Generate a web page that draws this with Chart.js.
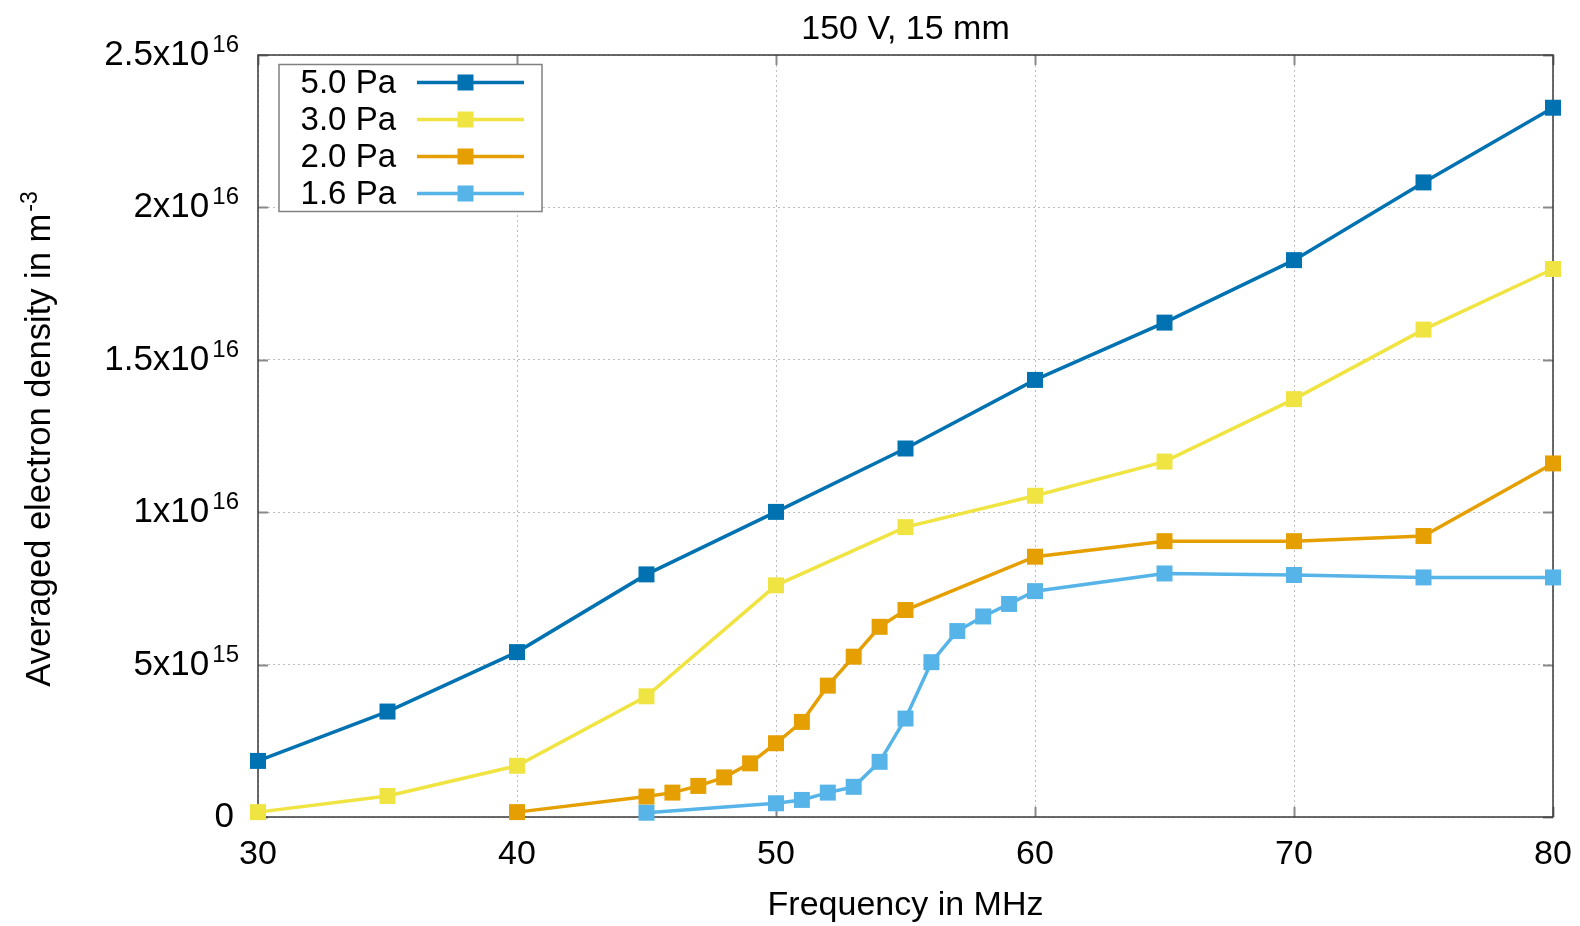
<!DOCTYPE html>
<html>
<head>
<meta charset="utf-8">
<script src="https://cdn.jsdelivr.net/npm/chart.js@4/dist/chart.umd.min.js"></script>
<style>
  html, body { margin: 0; padding: 0; background: #fff; }
  canvas { display: block; }
</style>
</head>
<body>
<canvas id="chart" width="1580" height="926"></canvas>
<script>
// frequencies in MHz, densities in m^-3
const freq50 = [30, 35, 40, 45, 50, 55, 60, 65, 70, 75, 80];
const dens50 = [0.184e16, 0.346e16, 0.541e16, 0.796e16, 1.001e16, 1.209e16, 1.434e16, 1.622e16, 1.827e16, 2.082e16, 2.327e16];

const freq30 = [30, 35, 40, 45, 50, 55, 60, 65, 70, 75, 80];
const dens30 = [0.016e16, 0.069e16, 0.168e16, 0.396e16, 0.760e16, 0.951e16, 1.054e16, 1.166e16, 1.371e16, 1.599e16, 1.798e16];

const freq20 = [40, 45, 46, 47, 48, 49, 50, 51, 52, 53, 54, 55, 60, 65, 70, 75, 80];
const dens20 = [0.016e16, 0.067e16, 0.080e16, 0.102e16, 0.130e16, 0.176e16, 0.242e16, 0.312e16, 0.431e16, 0.526e16, 0.624e16, 0.679e16, 0.854e16, 0.905e16, 0.905e16, 0.922e16, 1.160e16];

const freq16 = [45, 50, 51, 52, 53, 54, 55, 56, 57, 58, 59, 60, 65, 70, 75, 80];
const dens16 = [0.014e16, 0.045e16, 0.056e16, 0.080e16, 0.099e16, 0.181e16, 0.323e16, 0.508e16, 0.610e16, 0.658e16, 0.699e16, 0.741e16, 0.799e16, 0.794e16, 0.786e16, 0.786e16];

const seriesLabels = ['5.0 Pa', '3.0 Pa', '2.0 Pa', '1.6 Pa'];
const seriesColors = ['#0072b2', '#f0e442', '#e69f00', '#56b4e9'];

const yTickValues = [0, 5e15, 1e16, 1.5e16, 2e16, 2.5e16];
const yTickBase = ['0', '5x10', '1x10', '1.5x10', '2x10', '2.5x10'];
const yTickExp = ['', '15', '16', '16', '16', '16'];

const FONT = '"Liberation Sans", Arial, sans-serif';

function toPoints(xs, ys) {
  return xs.map((x, i) => ({ x: x, y: ys[i] }));
}

function makeSet(i, xs, ys) {
  return {
    label: seriesLabels[i],
    data: toPoints(xs, ys),
    borderColor: seriesColors[i],
    backgroundColor: seriesColors[i],
    borderWidth: 3.5,
    pointStyle: 'rect',
    pointRadius: 11.3,
    pointBorderWidth: 0,
    pointHoverRadius: 11.3,
    tension: 0,
    clip: false,
    order: 4 - i
  };
}

const decorPlugin = {
  id: 'decor',
  beforeDatasetsDraw(chart) {
    const { ctx, chartArea: a, scales } = chart;
    ctx.save();
    // inner tick marks on all four sides
    ctx.strokeStyle = '#8a8a8a';
    ctx.lineWidth = 2;
    ctx.beginPath();
    scales.x.ticks.forEach(t => {
      const px = Math.round(scales.x.getPixelForValue(t.value)) + 0.5;
      ctx.moveTo(px, a.bottom); ctx.lineTo(px, a.bottom - 10);
      ctx.moveTo(px, a.top); ctx.lineTo(px, a.top + 10);
    });
    yTickValues.forEach(v => {
      const py = Math.round(scales.y.getPixelForValue(v)) + 0.5;
      ctx.moveTo(a.left, py); ctx.lineTo(a.left + 10, py);
      ctx.moveTo(a.right, py); ctx.lineTo(a.right - 10, py);
    });
    ctx.stroke();
    // frame
    ctx.strokeStyle = '#3a3a3a';
    ctx.lineWidth = 1.5;
    ctx.strokeRect(a.left, a.top, a.right - a.left, a.bottom - a.top);
    ctx.restore();
  },
  afterDraw(chart) {
    const { ctx, chartArea: a, scales } = chart;
    ctx.save();
    ctx.fillStyle = '#000';

    // title
    ctx.font = '34px ' + FONT;
    ctx.textAlign = 'center';
    ctx.textBaseline = 'alphabetic';
    ctx.fillText('150 V, 15 mm', (a.left + a.right) / 2, 39);

    // y tick labels with superscript exponents
    const rightEdge = 239;
    yTickValues.forEach((v, i) => {
      const py = scales.y.getPixelForValue(v);
      ctx.font = '24px ' + FONT;
      const ew = yTickExp[i] ? ctx.measureText(yTickExp[i]).width : 0;
      ctx.textAlign = 'right';
      if (yTickExp[i]) ctx.fillText(yTickExp[i], rightEdge, py - 3);
      ctx.font = '35px ' + FONT;
      ctx.fillText(yTickBase[i], rightEdge - ew - (ew ? 3 : 5), py + 10);
    });

    // y axis title, rotated, with superscript
    const base = 'Averaged electron density in m';
    const sup = '-3';
    ctx.font = '34.5px ' + FONT;
    const bw = ctx.measureText(base).width;
    ctx.font = '23px ' + FONT;
    const sw = ctx.measureText(sup).width;
    const total = bw + 2 + sw;
    ctx.translate(50, 439);
    ctx.rotate(-Math.PI / 2);
    ctx.textAlign = 'left';
    ctx.font = '34.5px ' + FONT;
    ctx.fillText(base, -total / 2, 0);
    ctx.font = '23px ' + FONT;
    ctx.fillText(sup, -total / 2 + bw + 2, -13);
    ctx.restore();
  },
  afterDatasetsDraw(chart) {
    const { ctx } = chart;
    ctx.save();
    const box = { x: 279, y: 64.5, w: 263, h: 147 };
    ctx.fillStyle = '#fff';
    ctx.fillRect(box.x, box.y, box.w, box.h);
    ctx.strokeStyle = '#808080';
    ctx.lineWidth = 1.5;
    ctx.strokeRect(box.x, box.y, box.w, box.h);
    ctx.font = '33px ' + FONT;
    ctx.textAlign = 'right';
    ctx.textBaseline = 'alphabetic';
    seriesLabels.forEach((lab, i) => {
      const ry = 82.5 + i * 37;
      ctx.fillStyle = '#000';
      ctx.fillText(lab, 396, ry + 10);
      ctx.strokeStyle = seriesColors[i];
      ctx.lineWidth = 3.5;
      ctx.beginPath();
      ctx.moveTo(417, ry);
      ctx.lineTo(524, ry);
      ctx.stroke();
      ctx.fillStyle = seriesColors[i];
      ctx.fillRect(465.5 - 8, ry - 8, 16, 16);
    });
    ctx.restore();
  }
};

new Chart(document.getElementById('chart'), {
  type: 'line',
  data: {
    datasets: [
      makeSet(0, freq50, dens50),
      makeSet(1, freq30, dens30),
      makeSet(2, freq20, dens20),
      makeSet(3, freq16, dens16)
    ]
  },
  options: {
    responsive: false,
    animation: false,
    devicePixelRatio: 1,
    layout: { autoPadding: false, padding: { top: 55, right: 27, left: 0, bottom: 0 } },
    plugins: {
      legend: { display: false },
      tooltip: { enabled: false },
      title: { display: false }
    },
    scales: {
      x: {
        type: 'linear',
        min: 30,
        max: 80,
        ticks: {
          stepSize: 10,
          padding: 17,
          color: '#000',
          font: { family: FONT, size: 34 },
          maxRotation: 0
        },
        grid: { color: '#bdbdbd', lineWidth: 1, drawTicks: false },
        border: { display: false, dash: [2, 3] },
        title: {
          display: true,
          text: 'Frequency in MHz',
          color: '#000',
          font: { family: FONT, size: 34 },
          padding: { top: 0, bottom: 0 }
        },
        afterFit(scale) {
          scale.height = 109;
          scale.paddingLeft = 0;
          scale.paddingRight = 0;
        }
      },
      y: {
        min: 0,
        max: 2.5e16,
        ticks: { stepSize: 5e15, display: false },
        grid: { color: '#bdbdbd', lineWidth: 1, drawTicks: false },
        border: { display: false, dash: [2, 3] },
        afterFit(scale) { scale.width = 258; }
      }
    }
  },
  plugins: [decorPlugin]
});
</script>
</body>
</html>
